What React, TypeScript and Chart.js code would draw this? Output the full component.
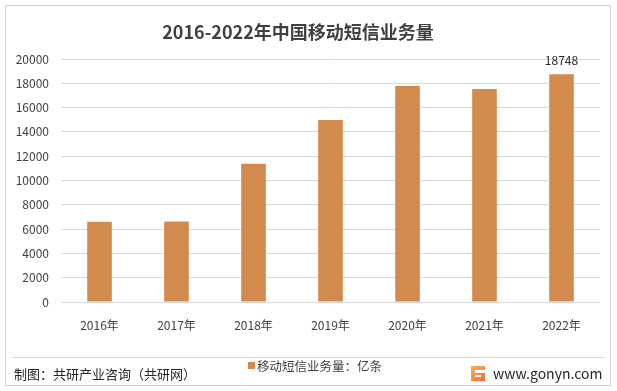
import React, { useEffect, useRef } from "react";
import { Chart, registerables } from "chart.js";

Chart.register(...registerables);

const TITLE = "2016-2022年中国移动短信业务量";
const categories = ["2016年", "2017年", "2018年", "2019年", "2020年", "2021年", "2022年"];
const seriesName = "移动短信业务量：亿条";
const values = [6600, 6620, 11380, 14980, 17780, 17540, 18748];
const labeledIndex = [6];
const yTicks = [0, 2000, 4000, 6000, 8000, 10000, 12000, 14000, 16000, 18000, 20000];
const sourceText = "制图：共研产业咨询（共研网）";
const siteText = "www.gonyn.com";

const FONT = "'Noto Sans CJK SC', 'Liberation Sans', sans-serif";
const BAR = "#D38B4D";

const decor = {
  id: "decor",
  afterDraw(chart: any) {
    const ctx = chart.ctx as CanvasRenderingContext2D;
    ctx.save();
    ctx.strokeStyle = "#d0d0d0";
    ctx.lineWidth = 1;
    ctx.strokeRect(5.5, 5.5, 605, 380);
    ctx.fillStyle = "#404040";
    ctx.font = `bold 18px ${FONT}`;
    ctx.textAlign = "center";
    ctx.textBaseline = "middle";
    ctx.fillText(TITLE, 298, 32);
    const meta = chart.getDatasetMeta(0);
    ctx.font = `12px ${FONT}`;
    ctx.fillStyle = "#262626";
    labeledIndex.forEach((i) => {
      const el = meta.data[i];
      ctx.fillText(String(values[i]), el.x, el.y - 14);
    });
    ctx.strokeStyle = "#d9d9d9";
    ctx.beginPath();
    ctx.moveTo(12, 357.5);
    ctx.lineTo(605, 357.5);
    ctx.stroke();
    ctx.fillStyle = BAR;
    ctx.fillRect(248, 362, 7, 7);
    ctx.fillStyle = "#404040";
    ctx.font = `12.5px ${FONT}`;
    ctx.textAlign = "left";
    ctx.fillText(seriesName, 257, 366);
    ctx.font = `13px ${FONT}`;
    ctx.fillStyle = "#262626";
    ctx.fillText(sourceText, 14, 374);
    const lx = 471, ly = 366;
    const g = ctx.createLinearGradient(lx, ly, lx + 14, ly + 15);
    g.addColorStop(0, "#F7B65A");
    g.addColorStop(1, "#EE6A3A");
    ctx.fillStyle = g;
    ctx.fillRect(lx, ly, 14, 15);
    ctx.fillStyle = "#ffffff";
    ctx.fillRect(lx + 4, ly + 4, 10, 3);
    ctx.fillRect(lx + 4, ly + 9, 6, 2);
    ctx.fillStyle = "#262626";
    ctx.font = `14px ${FONT}`;
    ctx.fillText(siteText, 493, 374);
    ctx.restore();
  },
};

export default function App() {
  const ref = useRef<HTMLCanvasElement>(null);
  useEffect(() => {
    if (!ref.current) return;
    const chart = new Chart(ref.current, {
      type: "bar",
      data: {
        labels: categories,
        datasets: [
          {
            label: seriesName,
            data: values,
            backgroundColor: BAR,
            categoryPercentage: 1,
            barPercentage: 0.32,
          },
        ],
      },
      options: {
        responsive: false,
        animation: false,
        devicePixelRatio: 1,
        layout: { padding: { top: 59, right: 17, left: 0, bottom: 0 } },
        plugins: {
          legend: { display: false },
          title: { display: false },
          tooltip: { enabled: false },
        },
        scales: {
          x: {
            grid: { display: false },
            border: { display: false },
            ticks: {
              color: "#404040",
              font: { family: FONT, size: 12 },
              padding: 8,
            },
            afterFit(scale: any) {
              scale.height = 89;
            },
          },
          y: {
            min: 0,
            max: 20000,
            afterBuildTicks(scale: any) {
              scale.ticks = yTicks.map((v) => ({ value: v }));
            },
            grid: { color: "#d9d9d9", drawTicks: false, lineWidth: 1 },
            border: { display: false },
            ticks: {
              color: "#404040",
              font: { family: FONT, size: 12 },
              padding: 12,
              callback: (v: any) => String(v),
            },
            afterFit(scale: any) {
              scale.width = 61;
            },
          },
        },
      },
      plugins: [decor],
    });
    return () => chart.destroy();
  }, []);
  return (
    <div style={{ position: "absolute", left: 0, top: 0, width: 617, height: 391, background: "#fff" }}>
      <canvas ref={ref} width={617} height={391} style={{ display: "block" }} />
    </div>
  );
}
